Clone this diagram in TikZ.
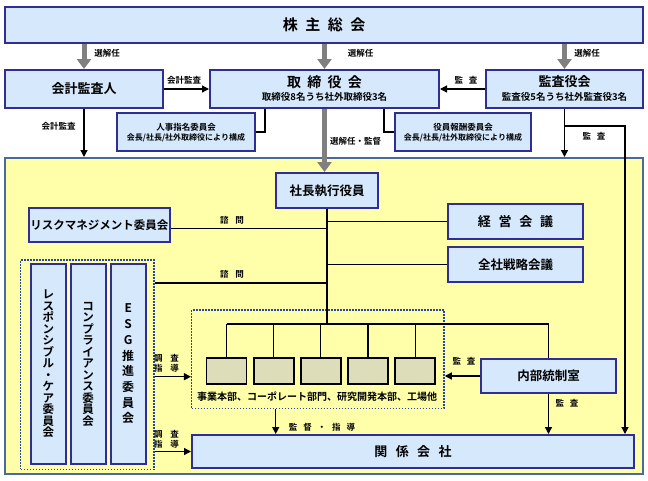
\documentclass[tikz,border=0pt]{standalone}
\usepackage{fontspec}
\setmainfont{Noto Sans CJK JP}[BoldFont={Noto Sans CJK JP Bold}]
\usetikzlibrary{arrows.meta}
\definecolor{boxfill}{RGB}{214,233,252}
\definecolor{boxline}{RGB}{46,46,150}
\definecolor{yel}{RGB}{255,255,170}
\definecolor{yelline}{RGB}{75,105,155}
\definecolor{dotline}{RGB}{40,70,160}
\definecolor{bizfill}{RGB}{222,221,185}
\definecolor{garrow}{RGB}{128,128,128}
\newcommand\fs[1]{\fontsize{#1}{#1}\selectfont\bfseries}
\newcommand\g[1]{\hspace{#1em}}
\begin{document}
\begin{tikzpicture}[x=1pt,y=-1pt,
 box/.style={draw=boxline,fill=boxfill,line width=2pt,inner sep=0pt,align=center},
 biz/.style={draw=black,fill=bizfill,line width=1.8pt,minimum width=40pt,minimum height=26pt,inner sep=0pt},
 grpbox/.style={draw=dotline,line width=1.5pt,dash pattern=on 1.5pt off 1.5pt,inner sep=0pt},
 txt/.style={inner sep=0pt,align=center},
 lab/.style={inner sep=0pt,align=center,font=\fs{8.5}},
 conn/.style={line width=1.3pt,draw=black},
 arr/.style={conn,-{Triangle[length=7pt,width=7pt]}},
 garr/.style={line width=5pt,draw=garrow,-{Triangle[length=10pt,width=14pt]}},
]
\fill[white] (0,0) rectangle (648,480);
\useasboundingbox (0,0) rectangle (648,480);

% yellow region
\node[draw=yelline,fill=yel,line width=2pt,inner sep=0pt,minimum width=638pt,minimum height=316pt] (grp) at (324,316) {};

% top boxes
\node[box,minimum width=638pt,minimum height=36pt,font=\fs{15}] (kabu) at (324,25) {株\g{.5}主\g{.5}総\g{.5}会};
\node[box,minimum width=158pt,minimum height=38pt,font=\fs{13}] (kaikei) at (84,89) {会計監査人};
\node[box,minimum width=229pt,minimum height=38pt] (tori) at (324.5,89) {};
\node[txt,font=\fs{14}] (toriA) at (324.5,82.5) {取\g{.45}締\g{.45}役\g{.45}会};
\node[txt,font=\fs{9.5}] (toriB) at (324.5,96.5) {取締役8名うち社外取締役3名};
\node[box,minimum width=157pt,minimum height=38pt] (kansa) at (564.5,89) {};
\node[txt,font=\fs{13}] (kansaA) at (564.5,81.5) {監査役会};
\node[txt,font=\fs{9.5}] (kansaB) at (564.5,96.5) {監査役5名うち社外監査役3名};
\node[box,minimum width=138pt,minimum height=38pt] (jinji) at (186,132) {};
\node[txt,font=\fs{8.5}] (jinjiA) at (186,127.5) {人事指名委員会};
\node[txt,font=\fs{8}] (jinjiB) at (186,137.5) {会長/社長/社外取締役により構成};
\node[box,minimum width=136pt,minimum height=38pt] (yakuin) at (463,132) {};
\node[txt,font=\fs{8.5}] (yakuinA) at (463,127.5) {役員報酬委員会};
\node[txt,font=\fs{8}] (yakuinB) at (463,137.5) {会長/社長/社外取締役により構成};

% inside
\node[box,minimum width=102pt,minimum height=35pt,font=\fs{12.5}] (shacho) at (327,190.5) {社長執行役員};
\node[box,minimum width=141pt,minimum height=34pt,font=\fs{11.5}] (risk) at (99.5,225) {リスクマネジメント委員会};
\node[box,minimum width=135pt,minimum height=35pt,font=\fs{13}] (keiei) at (515.5,221.5) {経\g{.6}営\g{.6}会\g{.6}議};
\node[box,minimum width=135pt,minimum height=35pt,font=\fs{12.5}] (zensha) at (515.5,264.5) {全社戦略会議};

\node[grpbox,minimum width=133.3pt,minimum height=209.3pt] (comm) at (87.35,364.65) {};
\node[box,minimum width=34.7pt,minimum height=200pt,font={\fontsize{11.5}{11.5}\selectfont\bfseries}] (c1) at (48.3,364) {レ\\ス\\ポ\\ン\\シ\\ブ\\ル\\・\\ケ\\ア\\委\\員\\会};
\node[box,minimum width=34.7pt,minimum height=200pt,font={\fontsize{11.5}{11.5}\selectfont\bfseries}] (c2) at (88.2,364) {コ\\ン\\プ\\ラ\\イ\\ア\\ン\\ス\\委\\員\\会};
\node[box,minimum width=34.7pt,minimum height=200pt,font={\fontsize{12}{15.7}\selectfont\bfseries}] (c3) at (128.2,364) {E\\S\\G\\推\\進\\委\\員\\会};

\node[grpbox,minimum width=252.3pt,minimum height=98.3pt] (bizgrp) at (317.85,359.15) {};
\node[biz] (b1) at (226.5,371) {};
\node[biz] (b2) at (273.7,371) {};
\node[biz] (b3) at (320.7,371) {};
\node[biz] (b4) at (368,371) {};
\node[biz] (b5) at (415.3,371) {};
\node[txt,font=\fs{10}] (bizlab) at (317,397) {事業本部、コーポレート部門、研究開発本部、工場他};

\node[box,minimum width=135pt,minimum height=34pt,font=\fs{12.5}] (naibu) at (548.5,376) {内部統制室};
\node[box,minimum width=442pt,minimum height=33pt,font=\fs{13}] (kankei) at (413,451.5) {関\g{.65}係\g{.65}会\g{.65}社};

% labels
\node[lab] (l1) at (107,53) {選解任};
\node[lab] (l2) at (360.5,53) {選解任};
\node[lab] (l3) at (587,53) {選解任};
\node[lab] (l4) at (184,80) {会計監査};
\node[lab] (l5) at (466,80) {監\g{.7}査};
\node[lab] (l6) at (58.7,126) {会計監査};
\node[lab] (l7) at (355.5,141.7) {選解任・監督};
\node[lab] (l8) at (594,136) {監\g{.7}査};
\node[lab] (l9) at (232,220) {諮\g{.8}問};
\node[lab] (l10) at (232,274) {諮\g{.8}問};
\node[lab,font={\fontsize{8.5}{10}\selectfont\bfseries}] (l11) at (166.5,363) {調\g{.9}査\\指\g{.9}導};
\node[lab,font={\fontsize{8.5}{10}\selectfont\bfseries}] (l12) at (166.5,439) {調\g{.9}査\\指\g{.9}導};
\node[lab] (l13) at (322,427) {監\g{.7}督\g{.7}・\g{.7}指\g{.7}導};
\node[lab] (l14) at (464,361) {監\g{.7}査};
\node[lab] (l15) at (567,403) {監\g{.7}査};

% coordinates
\coordinate (kb) at (625,126);
\coordinate (bar) at (327,324);
\coordinate (s2) at (0,283);
\coordinate (a1) at (0,376.7);
\coordinate (bk) at (275.7,0);

% grey arrows
\draw[garr] (kaikei.north |- kabu.south) -- (kaikei.north);
\draw[garr] (tori.north |- kabu.south) -- (tori.north);
\draw[garr] (kansa.north |- kabu.south) -- (kansa.north);
\draw[garr] (tori.south) -- (tori.south |- shacho.north);

% black connectors
\draw[arr] (kaikei.east) -- (tori.west);
\draw[arr] (kansa.west) -- (tori.east);
\draw[conn] ([xshift=-59.5pt]tori.south) |- (jinji.east);
\draw[conn] ([xshift=59.5pt]tori.south) |- (yakuin.west);
\draw[arr] (kaikei.south) -- (kaikei.south |- grp.north);
\draw[arr] (kansa.south) -- (kansa.south |- grp.north);
\draw[arr] (kansa.south |- kb) -| (kb |- kankei.north);

\draw[conn] (shacho.south) -- (shacho.south |- bar);
\draw[conn] ([yshift=-3.7pt]risk.east) -- ([yshift=-3.7pt]risk.east -| shacho.south);
\draw[conn] (comm.east |- s2) -- (shacho.south |- s2);
\draw[conn] (keiei.west -| shacho.south) -- (keiei.west);
\draw[conn] (zensha.west -| shacho.south) -- (zensha.west);
\draw[conn] (b1.north |- bar) -- (naibu.north |- bar) -- (naibu.north);
\foreach \b in {b1,b2,b3,b4,b5} \draw[conn] (\b.north |- bar) -- (\b.north);

\draw[arr] (naibu.west) -- (naibu.west -| bizgrp.east);
\draw[arr] (naibu.south) -- (naibu.south |- kankei.north);
\draw[arr] (bizgrp.south -| bk) -- (kankei.north -| bk);
\draw[arr] (comm.east |- a1) -- (bizgrp.west |- a1);
\draw[arr] (comm.east |- kankei.center) -- (kankei.west);
\end{tikzpicture}
\end{document}
